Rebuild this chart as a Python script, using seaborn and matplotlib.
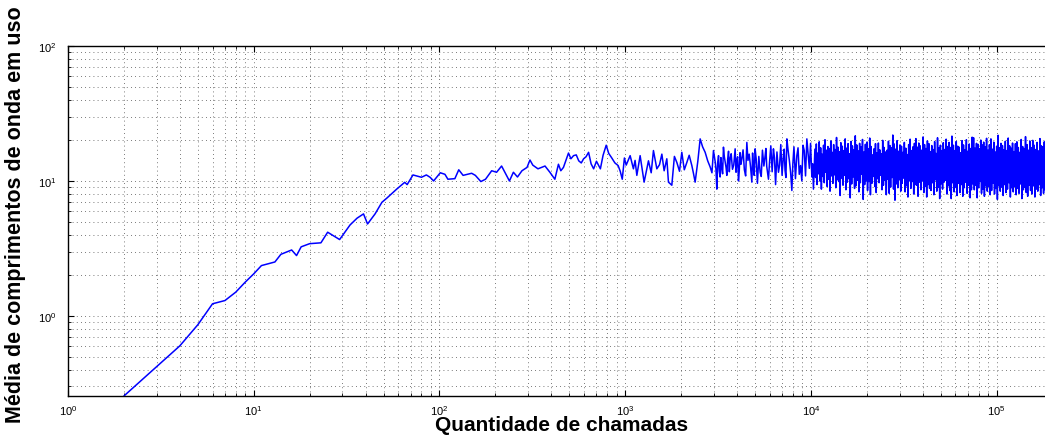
import numpy as np
import pandas as pd
import seaborn as sns
import matplotlib.pyplot as plt
from matplotlib.ticker import LogLocator, NullFormatter

# early, smooth part of the curve
early_x = [2, 4, 5, 6, 7, 8, 9, 10, 11, 13, 14, 16, 17, 18, 20, 23, 25, 29, 33, 36,
           39, 41, 45, 49, 52, 59, 65, 67, 72, 80, 85, 89, 93, 101, 107, 111, 121, 127,
           134, 149, 156, 167, 177, 191, 203, 216, 225, 238, 250, 263, 278, 296, 307,
           318, 339, 370, 393, 418, 437, 450, 465, 495, 510, 527, 545, 562, 580, 597,
           615, 635, 655, 676, 700, 735, 760, 790, 815, 844, 880, 916, 940, 964, 990, 1012]
early_y = [0.255, 0.60, 0.86, 1.23, 1.30, 1.50, 1.78, 2.05, 2.36, 2.51, 2.86, 3.08, 2.80,
           3.25, 3.43, 3.48, 4.17, 3.68, 4.72, 5.30, 5.70, 4.80, 5.70, 6.95, 7.45, 8.73,
           9.77, 9.40, 11.08, 10.65, 11.08, 10.65, 10.0, 11.5, 11.2, 10.3, 10.4, 12.1,
           11.0, 11.4, 11.0, 9.9, 10.3, 11.9, 11.6, 12.9, 11.6, 10.0, 11.6, 10.7, 11.9,
           12.6, 14.3, 13.1, 12.3, 12.9, 11.6, 10.3, 13.3, 11.9, 12.6, 16.1, 14.6, 15.4,
           15.6, 14.1, 13.6, 14.6, 15.1, 16.3, 13.4, 12.3, 14.0, 12.3, 15.5, 18.4, 16.0,
           14.9, 13.6, 13.0, 11.8, 10.3, 14.8, 13.1]

# 10^3 .. 10^4, noisier
mid_x = [1063, 1107, 1130, 1155, 1203, 1230, 1264, 1334, 1380, 1419, 1480, 1530, 1575,
         1620, 1675, 1709, 1782, 1840, 1897, 1960, 2017, 2080, 2146, 2210, 2284, 2330,
         2379, 2460, 2532, 2610, 2694, 2780, 2866, 2930, 2986, 3050, 3113, 3180, 3243,
         3310, 3380, 3450, 3525, 3600, 3672, 3780, 3907, 3990, 4071, 4150, 4246, 4380,
         4517, 4650, 4806, 4900, 5006, 5150, 5325, 5480, 5668, 5780, 5905, 6080, 6281,
         6450, 6683, 6880, 7110, 7250, 7418, 7650, 7891, 8100, 8395, 8650, 8931, 9200,
         9504, 9800, 10111, 10313,
         3080, 3145, 3210, 3275, 3345, 3415, 3490, 3560, 3635, 3720, 3840, 3950, 4030,
         4110, 4200, 4310, 4450, 4580, 4730, 4850, 4950, 5070, 5240, 5400, 5580, 5720,
         5840, 5990, 6180, 6360, 6560, 6780, 6990, 7180, 7330, 7530, 7770, 7990, 8250,
         8520, 8790, 9060, 9350, 9650, 9950, 10210]
mid_y = [15.4, 12.3, 14.2, 11.0, 15.4, 12.6, 9.8, 14.1, 11.5, 16.8, 12.3, 13.2, 15.8,
         11.9, 14.6, 9.8, 9.3, 15.2, 13.7, 11.8, 16.3, 12.1, 13.7, 15.5, 13.0, 11.4,
         9.8, 14.0, 20.5, 17.9, 16.3, 14.1, 12.7, 11.5, 16.8, 13.9, 8.7, 15.4, 10.7,
         12.5, 17.8, 13.9, 11.0, 16.6, 14.6, 12.2, 17.3, 14.3, 10.0, 16.2, 14.6, 12.1,
         19.3, 15.8, 9.8, 12.6, 17.3, 9.6, 11.6, 16.9, 15.4, 12.8, 10.3, 18.2, 17.3,
         9.4, 11.6, 18.6, 15.4, 12.0, 20.5, 14.2, 8.5, 17.9, 15.4, 11.2, 10.0, 16.8,
         20.5, 12.4, 10.7, 8.7,
         12.2, 13.6, 11.8, 14.9, 11.3, 15.2, 12.6, 14.4, 11.7, 15.9, 13.1, 11.6, 15.1,
         11.8, 13.3, 17.0, 10.9, 14.2, 12.7, 16.1, 11.0, 14.6, 15.2, 10.8, 12.9, 17.4,
         11.5, 14.0, 11.7, 14.9, 16.4, 13.1, 11.0, 17.2, 10.6, 16.9, 11.6, 13.4, 10.4,
         17.6, 13.0, 18.4, 10.9, 16.0, 19.0, 13.4]

# above 10^4 the trace is a dense band: peaks and troughs in order
band_hi = [17.2, 18.8, 16.1, 19.5, 17.6, 15.8, 18.4, 20.2, 16.9, 18.0,
           17.4, 19.8, 16.3, 18.6, 17.1, 21.0, 17.8, 16.5, 19.2, 18.1,
           16.8, 20.5, 17.5, 18.9, 15.9, 19.6, 18.2, 17.0, 21.6, 18.5,
           16.7, 19.0, 17.9, 20.3, 16.4, 18.7, 19.4, 17.3, 20.8, 18.0,
           15.6, 17.3, 18.9, 16.2, 19.1, 17.0, 15.9, 20.0, 17.7, 16.4,
           16.9, 19.7, 18.3, 17.6, 21.9, 18.8, 17.2, 19.9, 16.6, 18.5,
           18.1, 16.3, 19.3, 17.5, 15.7, 18.6, 20.4, 16.8, 17.9, 19.0,
           20.6, 17.8, 19.1, 18.2, 16.9, 21.2, 18.6, 17.4, 19.8, 18.9,
           16.5, 18.3, 17.1, 19.6, 16.0, 20.9, 17.6, 18.4, 16.7, 19.2,
           17.1, 20.4, 18.0, 19.3, 17.7, 21.5, 18.4, 16.8, 19.6, 18.1,
           17.8, 16.2, 19.9, 18.5, 17.0, 20.2, 16.6, 18.8, 17.4, 21.1,
           20.9, 17.5, 19.0, 18.7, 17.3, 20.1, 18.5, 19.4, 17.9, 20.7,
           16.9, 18.6, 20.5, 17.2, 19.4, 16.4, 18.1, 21.8, 17.6, 19.0,
           18.3, 17.0, 19.7, 16.8, 20.8, 18.2, 17.5, 19.1, 16.5, 18.9,
           19.5, 17.7, 16.3, 20.3, 18.0, 17.4, 21.3, 18.6, 16.9, 19.8,
           17.6, 20.0, 18.4, 17.1, 19.3, 16.7, 20.6, 18.2, 17.9, 19.5]
band_lo = [10.6, 9.4, 11.3, 10.0, 8.7, 10.8, 9.7, 11.6, 9.1, 10.3,
           8.4, 10.9, 9.6, 11.1, 8.9, 10.2, 9.9, 7.8, 10.5, 9.3,
           11.0, 8.6, 9.8, 10.4, 7.5, 9.5, 10.7, 8.8, 9.2, 10.1,
           8.3, 9.7, 11.2, 7.3, 9.4, 10.0, 8.5, 9.9, 7.9, 9.6,
           10.8, 9.1, 8.2, 10.4, 9.7, 11.0, 8.6, 9.3, 10.1, 7.9,
           10.3, 8.1, 9.0, 10.6, 8.7, 7.2, 9.5, 8.9, 10.2, 8.4,
           9.6, 10.5, 8.3, 9.2, 7.6, 10.0, 8.8, 9.9, 8.0, 9.4,
           9.3, 7.7, 9.8, 8.6, 10.0, 8.2, 9.1, 7.6, 9.4, 8.8,
           8.5, 9.7, 7.9, 10.2, 8.4, 9.0, 7.4, 9.5, 8.7, 9.8,
           10.1, 8.0, 9.2, 8.5, 7.4, 9.7, 8.3, 9.0, 7.8, 9.6,
           8.2, 9.4, 7.7, 8.9, 9.8, 8.1, 9.3, 7.5, 8.6, 9.5,
           8.6, 9.3, 7.5, 8.9, 9.9, 8.1, 8.7, 7.7, 9.2, 8.4,
           9.1, 7.9, 8.5, 9.6, 8.0, 8.8, 7.3, 9.2, 8.4, 9.0,
           7.8, 9.4, 8.2, 8.7, 9.7, 7.6, 8.9, 8.3, 9.1, 7.9,
           8.8, 8.1, 9.5, 7.4, 8.6, 9.0, 8.2, 7.7, 9.3, 8.5,
           8.0, 9.2, 7.6, 8.7, 8.4, 9.4, 7.8, 8.9, 8.1, 8.6]
band_start, band_end = 10500, 182000

mid = pd.DataFrame({"x": mid_x, "y": mid_y}).sort_values("x")
band_y = np.column_stack([band_hi, band_lo]).ravel()
band_x = np.geomspace(band_start, band_end, len(band_y))

df = pd.DataFrame({
    "x": np.concatenate([early_x, mid["x"], band_x]),
    "y": np.concatenate([early_y, mid["y"], band_y]),
})

sns.set_style("ticks")
plt.rcParams["font.family"] = ["Liberation Sans", "DejaVu Sans"]
plt.rcParams["mathtext.fontset"] = "custom"
plt.rcParams["mathtext.rm"] = "Liberation Sans"
plt.rcParams["text.color"] = "black"
plt.rcParams["axes.labelcolor"] = "black"

fig = plt.figure(figsize=(10.45, 4.39), dpi=100)
ax = fig.add_axes([68 / 1045, 42 / 439, 1 - 68 / 1045, 350 / 439])

sns.lineplot(data=df, x="x", y="y", sort=False, estimator=None,
             color="#0000ff", linewidth=1.1, ax=ax)

ax.set_xscale("log")
ax.set_yscale("log")
ax.set_xlim(1, 1.82e5)
ax.set_ylim(0.255, 100)

for axis in (ax.xaxis, ax.yaxis):
    axis.set_major_locator(LogLocator(base=10))
    axis.set_minor_locator(LogLocator(base=10, subs=np.arange(2, 10)))
    axis.set_minor_formatter(NullFormatter())

ax.grid(True, which="both", color="0.3", linestyle=(0, (1, 4)), linewidth=0.6)
ax.tick_params(which="both", direction="in", top=True, right=False,
               labelsize=8, colors="black")
ax.tick_params(which="major", length=4, width=0.8, pad=5)
ax.tick_params(which="minor", length=2.5, width=0.6)
ax.tick_params(axis="y", pad=8)

for side in ("left", "bottom", "top"):
    ax.spines[side].set_linewidth(1.0)
    ax.spines[side].set_color("black")
ax.spines["right"].set_visible(False)

ax.set_xlabel("Quantidade de chamadas", fontsize=15, fontweight="bold", color="black")
ax.set_ylabel("Média de comprimentos de onda em uso", fontsize=15.5,
              fontweight="bold", color="black")
ax.xaxis.set_label_coords(0.505, -0.055)
ax.yaxis.set_label_coords(-0.043, 0.522)

fig.savefig("out.png", dpi=100)
